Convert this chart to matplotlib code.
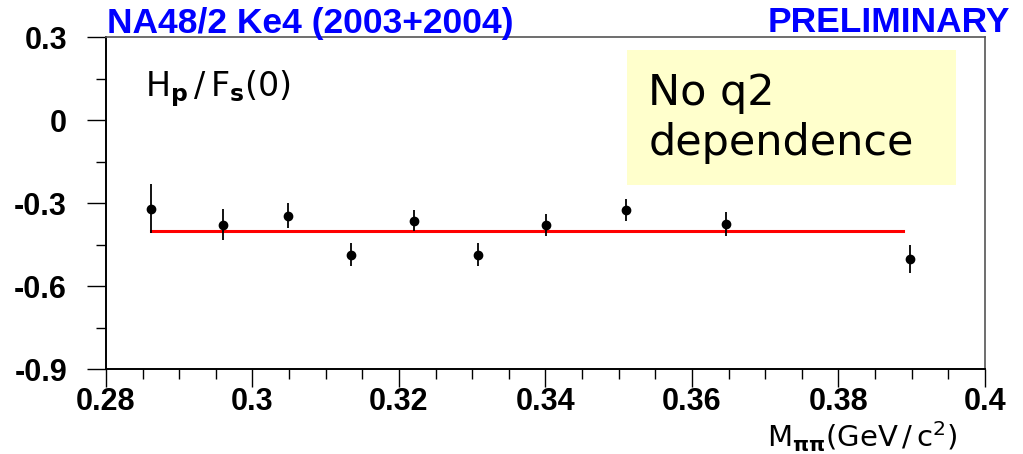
import matplotlib
matplotlib.use("Agg")
import matplotlib.pyplot as plt
from matplotlib.patches import Rectangle
from matplotlib.ticker import MultipleLocator

# data
m_pipi = [0.2861, 0.2960, 0.3049, 0.3135, 0.3220, 0.3308, 0.3401, 0.3510, 0.3646, 0.3898]
hp_fs = [-0.321, -0.378, -0.346, -0.487, -0.364, -0.487, -0.379, -0.325, -0.377, -0.502]
hp_err = [0.089, 0.056, 0.045, 0.042, 0.037, 0.042, 0.041, 0.041, 0.044, 0.050]
fit_value = -0.40
fit_range = [0.2861, 0.3888]
x_ticks = [0.28, 0.30, 0.32, 0.34, 0.36, 0.38, 0.40]
x_tick_labels = ["0.28", "0.3", "0.32", "0.34", "0.36", "0.38", "0.4"]
y_ticks = [-0.9, -0.6, -0.3, 0.0, 0.3]
y_tick_labels = ["-0.9", "-0.6", "-0.3", "0", "0.3"]

plt.rcParams["font.family"] = ["Liberation Sans", "DejaVu Sans"]
plt.rcParams["mathtext.fontset"] = "custom"
plt.rcParams["mathtext.rm"] = "DejaVu Sans"
plt.rcParams["mathtext.it"] = "DejaVu Sans:italic"
plt.rcParams["mathtext.bf"] = "DejaVu Sans:bold"

fig = plt.figure(figsize=(10.23, 4.54), dpi=100)
ax = fig.add_axes([0.1036, 0.1872, 0.8592, 0.7313])

ax.errorbar(m_pipi, hp_fs, yerr=hp_err, fmt="o", color="black", ms=6,
            elinewidth=1.3, capsize=0, zorder=3)
ax.plot(fit_range, [fit_value, fit_value], color="red", lw=2.2, zorder=2)

ax.set_xlim(0.28, 0.40)
ax.set_ylim(-0.9, 0.3)
ax.set_xticks(x_ticks)
ax.set_xticklabels(x_tick_labels)
ax.set_yticks(y_ticks)
ax.set_yticklabels(y_tick_labels)
ax.xaxis.set_minor_locator(MultipleLocator(0.005))
ax.yaxis.set_minor_locator(MultipleLocator(0.15))
ax.tick_params(which="major", length=14, width=1.0, labelsize=22)
ax.tick_params(which="minor", length=7, width=1.0)
ax.tick_params(axis="y", which="major", pad=14)
ax.tick_params(axis="x", which="major", length=13, pad=0)
for lab in ax.get_xticklabels() + ax.get_yticklabels():
    lab.set_fontweight("bold")

for side in ["left", "bottom"]:
    ax.spines[side].set_linewidth(1.4)
    ax.spines[side].set_color("black")
for side in ["top", "right"]:
    ax.spines[side].set_linewidth(1.2)
    ax.spines[side].set_color("#555555")

# label inside the frame
ax.text(0.044, 0.846, r"$\mathrm{H_{\mathbf{p}}\,/\,F_{\mathbf{s}}(0)}$", transform=ax.transAxes,
        fontsize=24, va="center", ha="left")

# yellow note box
ax.add_patch(Rectangle((0.593, 0.554), 0.374, 0.407, transform=ax.transAxes,
                       facecolor="#ffffcc", edgecolor="none", zorder=1))
ax.text(0.617, 0.757, "No q2\ndependence", transform=ax.transAxes,
        fontsize=31, family=["DejaVu Sans"], va="center", ha="left",
        linespacing=1.25, zorder=4)

# headers
fig.text(0.105, 0.927, "NA48/2 Ke4 (2003+2004)", color="#0000ff",
         fontsize=25.5, fontweight="bold", ha="left", va="baseline")
fig.text(0.987, 0.929, "PRELIMINARY", color="#0000ff",
         fontsize=25.5, fontweight="bold", ha="right", va="baseline")

# x axis title
fig.text(0.936, 0.016, r"$\mathrm{M_{\mathbf{\pi\pi}}(GeV\,/\,c^{2})}$", fontsize=21,
         ha="right", va="baseline")

fig.savefig("out.png", dpi=100)
